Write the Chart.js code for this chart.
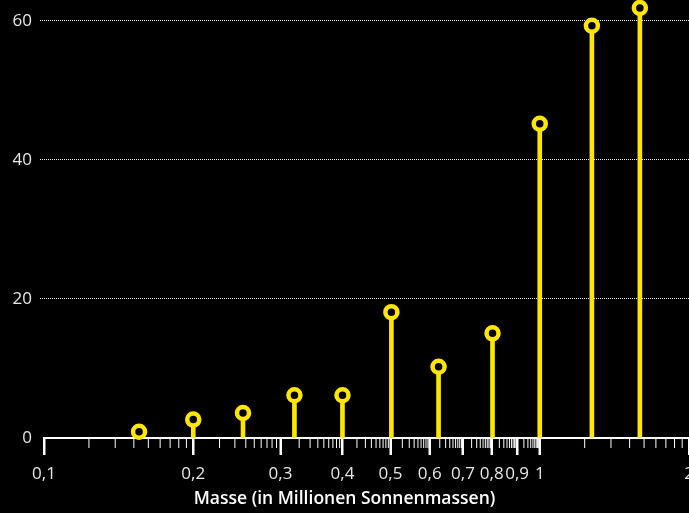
<!DOCTYPE html>
<html>
<head>
<meta charset="utf-8">
<script src="https://cdn.jsdelivr.net/npm/chart.js@4/dist/chart.umd.min.js"></script>
<style>
html, body { margin: 0; padding: 0; background: #000; overflow: hidden; }
#wrap { width: 689px; height: 513px; }
canvas { display: block; background: #000; }
</style>
</head>
<body>
<div id="wrap"><canvas id="c" width="689" height="513"></canvas></div>
<script>
// Data (mass bins in million solar masses) and counts
const masses = [0.1555, 0.2, 0.252, 0.32, 0.4, 0.502, 0.625, 0.803, 1.0, 1.274, 1.592];
const counts = [0.9, 2.65, 3.6, 6.15, 6.15, 18.1, 10.25, 15.05, 45.2, 59.3, 61.85];
const xTickValues = [0.1, 0.2, 0.3, 0.4, 0.5, 0.6, 0.7, 0.8, 0.9, 1, 2];
const xTickLabels = ['0,1', '0,2', '0,3', '0,4', '0,5', '0,6', '0,7', '0,8', '0,9', '1', '2'];
const yTickValues = [0, 20, 40, 60];
const yTickLabels = ['0', '20', '40', '60'];
const xTitle = 'Masse (in Millionen Sonnenmassen)';

const YELLOW = '#ffe600';
const LABEL = '#e6e6e6';
const FONT = '"Open Sans", "Noto Sans", sans-serif';

const pts = masses.map((m, i) => ({ x: m, y: counts[i] }));

// major and minor tick marks on the x axis (decorative axis marks)
const axisTicks = {
  id: 'axisTicks',
  afterDraw(chart) {
    const sx = chart.scales.x;
    const ctx = chart.ctx;
    const base = chart.chartArea.bottom;
    ctx.save();
    ctx.strokeStyle = '#ffffff';
    ctx.lineWidth = 1;
    for (let i = 0; i < xTickValues.length - 1; i++) {
      const a = xTickValues[i], b = xTickValues[i + 1];
      const pa = sx.getPixelForValue(a), pb = sx.getPixelForValue(b);
      for (let k = 2; k <= 9; k++) {
        const px = pa + Math.log10(k) * (pb - pa);
        ctx.beginPath();
        ctx.moveTo(px, base);
        ctx.lineTo(px, base + 10);
        ctx.stroke();
      }
    }
    ctx.lineWidth = 2;
    xTickValues.forEach(v => {
      const px = Math.round(sx.getPixelForValue(v));
      ctx.beginPath();
      ctx.moveTo(px, base);
      ctx.lineTo(px, base + 17);
      ctx.stroke();
    });
    ctx.restore();
  }
};

new Chart(document.getElementById('c'), {
  type: 'bar',
  data: {
    datasets: [
      {
        type: 'scatter',
        data: pts,
        order: 0,
        pointRadius: 6,
        pointBorderWidth: 4.5,
        pointBorderColor: YELLOW,
        pointBackgroundColor: '#000',
        pointHoverRadius: 6,
        showLine: false,
        clip: false
      },
      {
        type: 'bar',
        data: pts,
        order: 1,
        backgroundColor: YELLOW,
        borderWidth: 0,
        barThickness: 4,
        clip: false
      }
    ]
  },
  options: {
    responsive: false,
    animation: false,
    devicePixelRatio: 1,
    events: [],
    layout: { padding: 0, autoPadding: false },
    plugins: {
      legend: { display: false },
      tooltip: { enabled: false },
      title: {
        display: true,
        position: 'bottom',
        text: xTitle,
        color: '#ffffff',
        font: { family: FONT, size: 17.5, weight: '600', lineHeight: 1.2 },
        padding: { top: 3, bottom: 3 }
      }
    },
    scales: {
      x: {
        type: 'logarithmic',
        min: 0.1,
        max: 2,
        offset: false,
        afterBuildTicks(scale) {
          scale.ticks = xTickValues.map(v => ({ value: v }));
        },
        afterFit(scale) {
          scale.paddingLeft = 0;
          scale.paddingRight = 0;
          scale.height = 48;
        },
        ticks: {
          autoSkip: false,
          maxRotation: 0,
          minRotation: 0,
          color: LABEL,
          padding: 9,
          font: { family: FONT, size: 17 },
          callback: (v, i) => xTickLabels[i]
        },
        grid: {
          offset: false,
          drawOnChartArea: false,
          drawTicks: true,
          tickLength: 17,
          tickColor: '#ffffff',
          tickWidth: 2
        },
        border: { display: true, color: '#ffffff', width: 2 }
      },
      y: {
        type: 'linear',
        min: 0,
        max: 63,
        afterBuildTicks(scale) {
          scale.ticks = yTickValues.map(v => ({ value: v }));
        },
        afterFit(scale) {
          scale.width = 44;
          scale.paddingTop = 0;
          scale.paddingBottom = 0;
        },
        ticks: {
          color: LABEL,
          padding: 8,
          font: { family: FONT, size: 17 },
          callback: (v, i) => yTickLabels[i]
        },
        grid: {
          drawOnChartArea: true,
          drawTicks: true,
          tickLength: 4,
          lineWidth: 1,
          color: (c) => (c.tick && c.tick.value === 0) ? 'rgba(0,0,0,0)' : 'rgba(255,255,255,0.95)',
          tickColor: (c) => (c.tick && c.tick.value === 0) ? 'rgba(0,0,0,0)' : 'rgba(255,255,255,0.95)',
          tickBorderDash: [1, 1]
        },
        border: { display: false, dash: [1, 1] }
      }
    }
  },
  plugins: [axisTicks]
});
</script>
</body>
</html>
